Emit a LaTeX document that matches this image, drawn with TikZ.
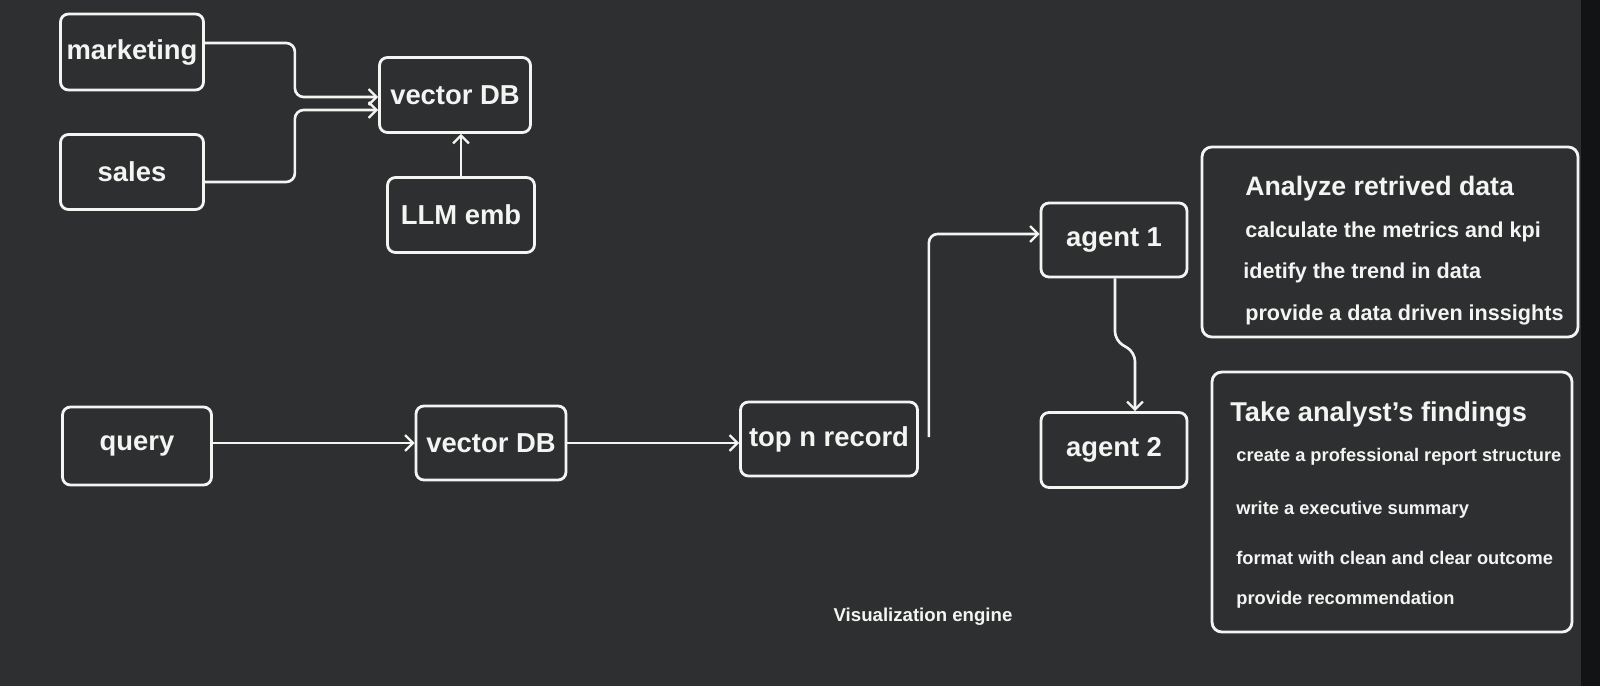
\documentclass[tikz,border=0pt]{standalone}
\usepackage{fontspec}
\setmainfont{Liberation Sans}
\usetikzlibrary{arrows.meta,calc}
\definecolor{screen}{HTML}{2D2F30}
\definecolor{bezel}{HTML}{121314}
\definecolor{chalk}{HTML}{F4F4F2}
\begin{document}
\begin{tikzpicture}[x=0.02cm, y=-0.02cm,
    box/.style={draw=chalk, line width=1.6pt, rounded corners=4.5pt, text=chalk,
      font=\fontsize{15.6}{18}\selectfont\bfseries, inner sep=0pt},
    panel/.style={draw=chalk, line width=1.6pt, rounded corners=5.5pt},
    flow/.style={draw=chalk, line width=1.5pt, rounded corners=5pt,
      -{Straight Barb[length=4.5pt,width=9pt,line width=1.3pt]}},
    note/.style={text=chalk, anchor=west, inner sep=0pt, font=\fontsize{#1}{14}\selectfont\bfseries}]
  \useasboundingbox (0,0) rectangle (1600,686);
  \fill[screen] (0,0) rectangle (1600,686);
  \fill[bezel] (1581,0) rectangle (1600,686);

  % sources and embedding
  \node[box, minimum width=2.86cm, minimum height=1.52cm] (mkt) at (132,52) {marketing};
  \node[box, minimum width=2.86cm, minimum height=1.50cm] (sales) at (132,172) {sales};
  \node[box, minimum width=3.02cm, minimum height=1.50cm] (vdb1) at (455,95) {vector DB};
  \node[box, minimum width=2.94cm, minimum height=1.50cm] (llm) at (461,215) {LLM emb};

  % query pipeline
  \node[box, minimum width=2.98cm, minimum height=1.56cm] (query) at (137,446) {query};
  \node[box, minimum width=3.00cm, minimum height=1.48cm] (vdb2) at (491,443) {vector DB};
  \node[box, minimum width=3.54cm, minimum height=1.48cm] (topn) at (829,439) {top n record};
  \node[box, minimum width=2.92cm, minimum height=1.48cm] (agent1) at (1114,240) {agent 1};
  \node[box, minimum width=2.92cm, minimum height=1.50cm] (agent2) at (1114,450) {agent 2};

  % agent task panels
  \node[panel, minimum width=7.52cm, minimum height=3.80cm] (tasks1) at (1390,242) {};
  \node[panel, minimum width=7.20cm, minimum height=5.20cm] (tasks2) at (1392,502) {};

  \node[note=15.2] (head1) at (1245,189) {Analyze retrived data};
  \foreach \y/\x/\txt in {232/1245/calculate the metrics and kpi,
                          273/1243/idetify the trend in data,
                          315/1245/provide a data driven inssights}
    \node[note=12.3] (step1-\y) at (\x,\y) {\txt};

  \node[note=15.5] (head2) at (1230,415) {Take analyst's findings};
  \foreach \y/\txt in {457/create a professional report structure,
                       510/write a executive summary,
                       558/format with clean and clear outcome,
                       600/provide recommendation}
    \node[note=10.4] (step2-\y) at (1236,\y) {\txt};

  \node[note=10.6, anchor=center] (viz) at (923,617) {Visualization engine};

  % connectors
  \draw[flow] ($(mkt.east)+(0,-9)$) -- ++(90,0) |- ($(vdb1.west)+(0,2)$);
  \draw[flow] ($(sales.east)+(0,10)$) -- ++(90,0) |- ($(vdb1.west)+(0,15)$);
  \draw[flow] (llm.north) -- (llm.north |- vdb1.south);
  \draw[flow] (query.east |- vdb2.west) -- (vdb2.west);
  \draw[flow] (vdb2.east) -- (topn.west |- vdb2.east);
  \draw[flow] ($(topn.east)+(10,-2)$) |- ($(agent1.west)+(0,-6)$);
  \draw[flow] ($(agent1.south)+(1,0)$) -- ++(0,62) -- ++(20,12) -- ($(agent2.north)+(21,0)$);
\end{tikzpicture}
\end{document}
